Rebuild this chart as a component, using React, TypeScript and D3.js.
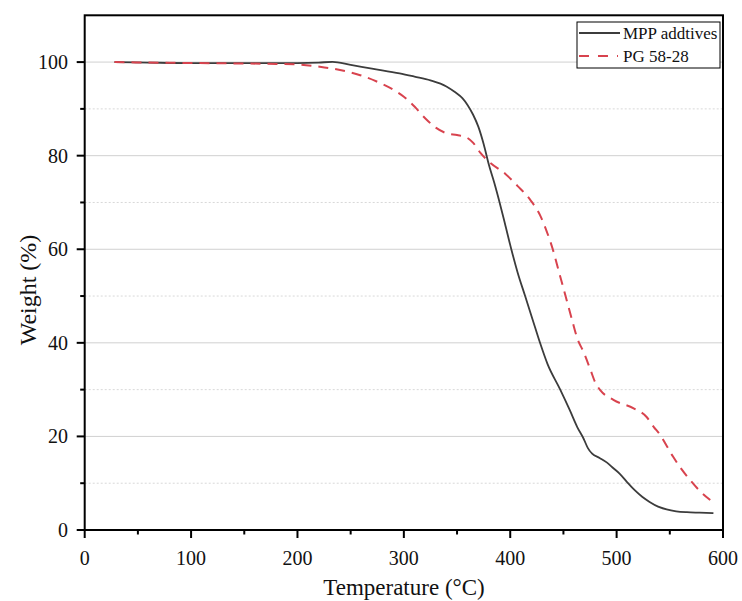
import React from "react";
import * as d3 from "d3";

const mppT = [28, 60, 100, 150, 200, 220, 233, 250, 270, 296, 310, 325, 340, 348, 355, 360, 365, 370, 375, 380, 385, 390, 395, 401, 407, 414, 421, 428, 435, 447, 456, 463, 469, 473, 477, 484, 491, 497, 503, 510, 517, 524, 531, 539, 547, 556, 566, 578, 591];
const mppW = [100, 99.9, 99.8, 99.8, 99.8, 99.9, 100.05, 99.4, 98.6, 97.6, 96.9, 96.1, 94.8, 93.6, 92.3, 90.8, 88.8, 86.2, 82.5, 78, 74.2, 70, 65.5, 60, 55, 50, 45, 40, 35.5, 30, 25.6, 22, 19.5, 17.5, 16.3, 15.4, 14.4, 13.2, 12, 10.2, 8.5, 7.1, 6, 5, 4.4, 4, 3.8, 3.7, 3.6];

const pgT = [28, 60, 100, 150, 180, 200, 221, 240, 259, 274, 293, 300, 310, 320, 330, 340, 350, 358, 365, 372, 381, 395, 407, 419, 428, 434, 440, 446, 452, 458, 463, 469, 475, 480, 485, 497, 516, 528, 535, 541, 547, 553, 561, 569, 578, 588];
const pgW = [100, 99.9, 99.8, 99.7, 99.6, 99.5, 99.0, 98.3, 97.2, 95.9, 93.7, 92.6, 90.5, 88, 86, 84.8, 84.4, 84, 82.8, 80.6, 78.5, 76.2, 73.5, 70.5, 67.3, 64, 60, 55, 50, 45, 41, 38, 34.5, 31.5, 29.8, 27.8, 26, 24.2, 22, 20.3, 18, 15.7, 13, 10.7, 8.4, 6.4];

const xTicks = [0, 100, 200, 300, 400, 500, 600];
const xMinor = [50, 150, 250, 350, 450, 550];
const yTicks = [0, 20, 40, 60, 80, 100];
const yMinor = [10, 30, 50, 70, 90];
const seriesNames = ["MPP addtives", "PG 58-28"];

export default function App() {
  const W = 742, H = 601;
  const left = 84.7, right = 723, top = 15.3, bottom = 530;
  const x = d3.scaleLinear().domain([0, 600]).range([left, right]);
  const y = d3.scaleLinear().domain([0, 110]).range([bottom, top]);
  const line = d3.line<[number, number]>().x(d => x(d[0])).y(d => y(d[1])).curve(d3.curveMonotoneX);
  const mpp = mppT.map((t, i) => [t, mppW[i]] as [number, number]);
  const pg = pgT.map((t, i) => [t, pgW[i]] as [number, number]);
  const font = "'Liberation Serif', 'Times New Roman', serif";
  return (
    <svg width={W} height={H} style={{ position: "absolute", left: 0, top: 0, background: "#fff" }} fontFamily={font}>
      <rect x={0} y={0} width={W} height={H} fill="#fff" />
      {yMinor.map(v => (
        <line key={"gm" + v} x1={left} x2={right} y1={y(v)} y2={y(v)} stroke="#d8d8d8" strokeWidth={1} strokeDasharray="2,2" />
      ))}
      {yTicks.filter(v => v > 0).map(v => (
        <line key={"gM" + v} x1={left} x2={right} y1={y(v)} y2={y(v)} stroke="#d0d0d0" strokeWidth={1} />
      ))}
      <path d={line(mpp) || ""} fill="none" stroke="#3c3c3c" strokeWidth={1.8} />
      <path d={line(pg) || ""} fill="none" stroke="#d8434e" strokeWidth={2} strokeDasharray="10,7" />
      <rect x={left} y={top} width={right - left} height={bottom - top} fill="none" stroke="#000" strokeWidth={2} />
      {xTicks.map(v => (
        <g key={"xt" + v}>
          <line x1={x(v)} x2={x(v)} y1={bottom} y2={bottom + 8} stroke="#000" strokeWidth={2} />
          <text x={x(v)} y={565} fontSize={20} textAnchor="middle" fill="#111">{v}</text>
        </g>
      ))}
      {xMinor.map(v => (
        <line key={"xm" + v} x1={x(v)} x2={x(v)} y1={bottom} y2={bottom + 4.5} stroke="#000" strokeWidth={2} />
      ))}
      {yTicks.map(v => (
        <g key={"yt" + v}>
          <line x1={left - 8} x2={left} y1={y(v)} y2={y(v)} stroke="#000" strokeWidth={2} />
          <text x={68} y={y(v) + 7} fontSize={20} textAnchor="end" fill="#111">{v}</text>
        </g>
      ))}
      {yMinor.map(v => (
        <line key={"ym" + v} x1={left - 4.5} x2={left} y1={y(v)} y2={y(v)} stroke="#000" strokeWidth={2} />
      ))}
      <text x={404} y={595} fontSize={23} textAnchor="middle" fill="#111">Temperature (°C)</text>
      <text transform={`translate(36, 290) rotate(-90)`} fontSize={24} textAnchor="middle" fill="#111">Weight (%)</text>
      <g>
        <rect x={577} y={22} width={143} height={46} fill="#fff" stroke="#000" strokeWidth={1} />
        <line x1={579} x2={620} y1={33} y2={33} stroke="#3c3c3c" strokeWidth={1.8} />
        <text x={623} y={39} fontSize={17} fill="#111">{seriesNames[0]}</text>
        <line x1={579} x2={618} y1={56} y2={56} stroke="#d8434e" strokeWidth={2} strokeDasharray="10,9" />
        <text x={623} y={62} fontSize={17} fill="#111">{seriesNames[1]}</text>
      </g>
    </svg>
  );
}
